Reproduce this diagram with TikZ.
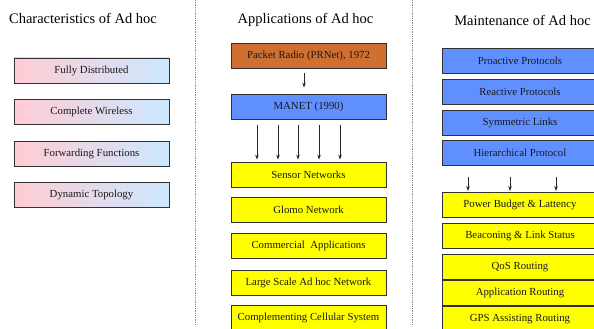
\documentclass[tikz,border=0pt]{standalone}
\usepackage{fontspec}
\setmainfont{Liberation Serif}
\usetikzlibrary{shadows,arrows.meta}
\definecolor{pinkc}{RGB}{255,204,212}
\definecolor{bluec}{RGB}{204,232,255}
\definecolor{orangec}{RGB}{208,112,48}
\definecolor{bluebox}{RGB}{96,144,255}
\definecolor{yellowc}{RGB}{255,255,0}
\definecolor{edgec}{RGB}{50,50,50}
\tikzset{
  box/.style={draw=edgec, line width=0.8pt, minimum width=155pt, minimum height=25pt,
    inner sep=0pt, font=\fontsize{10.8}{12}\selectfont, text=black!90,
    drop shadow={shadow xshift=0.7pt, shadow yshift=-0.7pt, fill=black!70, opacity=1}},
  gradbox/.style={box, left color=pinkc, right color=bluec},
  orangebox/.style={box, fill=orangec},
  bluebx/.style={box, fill=bluebox, minimum width=156pt},
  yellowbox/.style={box, fill=yellowc},
  yellowr/.style={yellowbox, minimum width=156pt},
  title/.style={font=\fontsize{14.5}{16}\selectfont, inner sep=0pt},
  sep/.style={draw=black!45, line width=0.9pt, dash pattern=on 1pt off 0.8pt},
  arr/.style={draw=black!85, line width=0.6pt, -{Stealth[length=5pt,width=3.5pt]}}
}
\begin{document}
\begin{tikzpicture}[x=1pt,y=-1pt]
\useasboundingbox (0,0) rectangle (594,329);
% separators
\coordinate (s1a) at (195,0); \coordinate (s1b) at (195,325);
\coordinate (s2a) at (412,0); \coordinate (s2b) at (412,325);
\draw[sep] (s1a) -- (s1b);
\draw[sep] (s2a) -- (s2b);
% titles
\node[title] (t1) at (83,18) {Characteristics of Ad hoc};
\node[title] (t2) at (305.5,20) {Applications of Ad hoc};
\node[title] (t3) at (522.5,20) {Maintenance of Ad hoc};
% left column
\node[gradbox] (c1) at (91.5,70.5) {Fully Distributed};
\node[gradbox] (c2) at (91.5,112) {Complete Wireless};
\node[gradbox] (c3) at (91.5,153.5) {Forwarding Functions};
\node[gradbox] (c4) at (91.5,195) {Dynamic Topology};
% middle column
\node[orangebox] (packet) at (308.5,55.5) {Packet Radio (PRNet), 1972};
\node[bluebx, minimum width=155pt] (manet) at (308.5,106.5) {MANET (1990)};
\node[yellowbox] (sensor) at (308.5,174.5) {Sensor Networks};
\node[yellowbox] (glomo) at (308.5,210) {Glomo Network};
\node[yellowbox] (comm) at (308.5,246) {Commercial\ \ Applications};
\node[yellowbox] (large) at (308.5,282.5) {Large Scale Ad hoc Network};
\node[yellowbox] (compl) at (308.5,317.5) {Complementing Cellular System};
\draw[arr, shorten <=5pt, shorten >=6pt] ([xshift=-4.5pt]packet.south) -- ([xshift=-4.5pt]manet.north);
\foreach \dx in {-51.5,-30.5,-10.5,10.5,31.5}{
  \draw[arr, shorten <=6pt, shorten >=2pt] ([xshift=\dx pt]manet.south) -- ([xshift=\dx pt]sensor.north);
}
% right column
\node[bluebx] (pro) at (520,60.5) {Proactive Protocols};
\node[bluebx] (rea) at (520,91.5) {Reactive Protocols};
\node[bluebx] (sym) at (520,122.5) {Symmetric Links};
\node[bluebx] (hie) at (520,153) {Hierarchical Protocol};
\node[yellowr] (pow) at (520,205) {Power Budget \& Lattency};
\node[yellowr] (bea) at (520,236) {Beaconing \& Link Status};
\node[yellowr] (qos) at (520,267) {QoS Routing};
\node[yellowr] (app) at (520,293) {Application Routing};
\node[yellowr] (gps) at (520,319) {GPS Assisting Routing};
\foreach \dx in {-52,-10,36}{
  \draw[arr, shorten <=11pt, shorten >=1pt] ([xshift=\dx pt]hie.south) -- ([xshift=\dx pt]pow.north);
}
\end{tikzpicture}
\end{document}
